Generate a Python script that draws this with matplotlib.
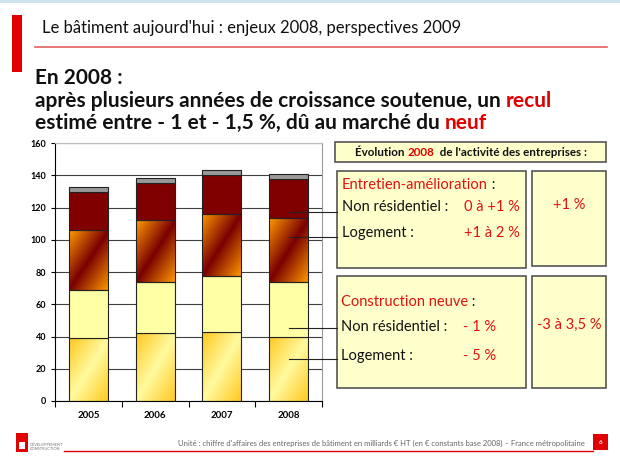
import numpy as np
import matplotlib.pyplot as plt
from matplotlib.patches import Rectangle

plt.rcParams['font.family'] = ['Lato', 'DejaVu Sans']

years = ['2005', '2006', '2007', '2008']
# milliards d'euros
logement_neuf = [39, 42, 42.5, 40]
non_res_neuf = [30, 32, 35, 34]
logement_entretien = [37, 38, 38.5, 39.5]
non_res_entretien = [23.5, 23.5, 24, 24]
autres = [3, 3, 3.5, 3]

yticks = [0, 20, 40, 60, 80, 100, 120, 140, 160]
leader_y = [117, 102, 45, 26]

W, H = 620, 465
fig = plt.figure(figsize=(6.2, 4.65), dpi=100)
fig.patch.set_facecolor('white')

# background / slide layer in pixel coords
bg = fig.add_axes([0, 0, 1, 1], zorder=-1)
bg.set_xlim(0, W)
bg.set_ylim(H, 0)
bg.axis('off')

bg.add_patch(Rectangle((0, 0), W, 3, color='#cfe3ee', lw=0))
bg.add_patch(Rectangle((12, 15), 10, 57, color='#e00000', lw=0))
bg.plot([35, 607], [47, 47], color='#e06060', lw=1.2)
bg.text(42, 28, "Le bâtiment aujourd'hui : enjeux 2008, perspectives 2009",
        fontsize=12, va='center', color='#111111')

fig.canvas.draw()
renderer = fig.canvas.get_renderer()


def rich(x, y, parts, center=False, **kw):
    texts = []
    x0 = x
    for s, c in parts:
        t = bg.text(x, y, s, color=c, va='center', **kw)
        bb = t.get_window_extent(renderer)
        x += bb.width
        texts.append(t)
    if center:
        shift = (x - x0) / 2
        for t in texts:
            px, py = t.get_position()
            t.set_position((px - shift, py))
    return texts


hs = 15
bg.text(35, 78, "En 2008 :", fontsize=hs, fontweight='bold', va='center', color='#111111')
rich(35, 101, [("après plusieurs années de croissance soutenue, un ", '#111111'),
               ("recul", '#e00000')], fontsize=hs, fontweight='bold')
rich(35, 123, [("estimé entre - 1 et - 1,5 %, dû au marché du ", '#111111'),
               ("neuf", '#e00000')], fontsize=hs, fontweight='bold')

# right-hand boxes
box_fc = '#ffffcc'
box_ec = '#555555'
for (x0, y0, x1, y1) in [(335, 142, 606, 162), (337, 171, 526, 268), (532, 171, 606, 266),
                         (337, 276, 526, 388), (532, 276, 606, 388)]:
    bg.add_patch(Rectangle((x0, y0), x1 - x0, y1 - y0, fc=box_fc, ec=box_ec, lw=1.2))

rich(471, 152, [("Évolution ", '#111111'), ("2008", '#e00000'),
                ("  de l'activité des entreprises :", '#111111')],
     center=True, fontsize=8.4, fontweight='bold')

red = '#e01010'
fs = 10.5
rich(342, 185, [("Entretien-amélioration", red), (" :", '#111111')], fontsize=fs)
bg.text(342, 207, "Non résidentiel :", fontsize=fs, va='center', color='#111111')
bg.text(464, 207, "0 à +1 %", fontsize=fs, va='center', color=red)
bg.text(342, 233, "Logement :", fontsize=fs, va='center', color='#111111')
bg.text(464, 233, "+1 à 2 %", fontsize=fs, va='center', color=red)
bg.text(569, 205, "+1 %", fontsize=fs, va='center', ha='center', color=red)

rich(341, 302, [("Construction neuve", red), (" :", '#111111')], fontsize=fs)
bg.text(341, 327, "Non résidentiel :", fontsize=fs, va='center', color='#111111')
bg.text(463, 327, "- 1 %", fontsize=fs, va='center', color=red)
bg.text(341, 356, "Logement :", fontsize=fs, va='center', color='#111111')
bg.text(463, 356, "- 5 %", fontsize=fs, va='center', color=red)
bg.text(569, 325, "-3 à 3,5 %", fontsize=fs, va='center', ha='center', color=red)

# footer
bg.add_patch(Rectangle((16, 433), 12, 19, color='#e00000', lw=0))
bg.add_patch(Rectangle((19, 442), 6, 7, color='white', lw=0))
bg.text(30, 447, "DÉVELOPPEMENT\nCONSTRUCTION", fontsize=2.8, va='center',
        color='#777777', linespacing=1.0)
bg.plot([64, 593], [451, 451], color='#e00000', lw=1.0)
bg.text(585, 443, "Unité : chiffre d'affaires des entreprises de bâtiment en milliards € HT "
        "(en € constants base 2008) – France métropolitaine",
        fontsize=5.5, ha='right', va='center', color='#666666')
bg.add_patch(Rectangle((593, 434), 15, 16, color='#e00000', lw=0))
bg.text(600.5, 442, "6", fontsize=4.5, ha='center', va='center', color='white', fontweight='bold')

# chart
ax = fig.add_axes([55 / W, 1 - 401 / H, 267 / W, 258 / H])
ax.set_facecolor('white')
x = np.arange(len(years))
bw = 0.585


def diag_gradient(c_mid, c_edge, n=60):
    u, v = np.meshgrid(np.linspace(0, 1, n), np.linspace(1, 0, n))
    s = np.abs(u - v)[..., None]
    a = np.array(c_mid)
    b = np.array(c_edge)
    return a + (b - a) * s


def hex2rgb(h):
    h = h.lstrip('#')
    return [int(h[i:i + 2], 16) / 255 for i in (0, 2, 4)]


grad_low = diag_gradient(hex2rgb('#fffaa0'), hex2rgb('#ffc81e'))
grad_mid = diag_gradient(hex2rgb('#7a0000'), hex2rgb('#ff9a00'))

segments = [
    (logement_neuf, grad_low),
    (non_res_neuf, '#ffffa6'),
    (logement_entretien, grad_mid),
    (non_res_entretien, '#800000'),
    (autres, '#9a9a9a'),
]

bottom = np.zeros(len(years))
for vals, style in segments:
    vals = np.array(vals, dtype=float)
    if isinstance(style, str):
        ax.bar(x, vals, bw, bottom=bottom, color=style, edgecolor='#222222',
               linewidth=0.8, zorder=3)
    else:
        for xi, b, v in zip(x, bottom, vals):
            ax.imshow(style, extent=(xi - bw / 2, xi + bw / 2, b, b + v),
                      aspect='auto', zorder=2, interpolation='bilinear')
        ax.bar(x, vals, bw, bottom=bottom, facecolor='none', edgecolor='#222222',
               linewidth=0.8, zorder=3)
    bottom += vals

ax.set_xlim(-0.5, 3.5)
ax.set_ylim(0, 160)
ax.set_yticks(yticks)
ax.set_xticks(x)
ax.set_xticklabels(years)
ax.set_xticks([-0.5, 0.5, 1.5, 2.5, 3.5], minor=True)
ax.tick_params(axis='x', which='major', length=0, labelsize=7, pad=7)
ax.tick_params(axis='x', which='minor', length=4, direction='out', width=0.8)
ax.tick_params(axis='y', length=3, direction='out', labelsize=6.5, width=0.8)
for lab in ax.get_xticklabels() + ax.get_yticklabels():
    lab.set_fontweight('bold')
ax.grid(axis='y', color='#404040', lw=0.8, zorder=1)
ax.set_axisbelow(True)
ax.spines['left'].set_color('black')
ax.spines['bottom'].set_color('black')
ax.spines['top'].set_color('#bbbbbb')
ax.spines['right'].set_color('#999999')

# leader lines from 2008 bar to the boxes
x_end = (337 - 55) / 267 * 4 - 0.5
for ly in leader_y:
    ax.plot([3, x_end], [ly, ly], color='#222222', lw=0.8, clip_on=False, zorder=4)

fig.savefig('out.png', dpi=100)
